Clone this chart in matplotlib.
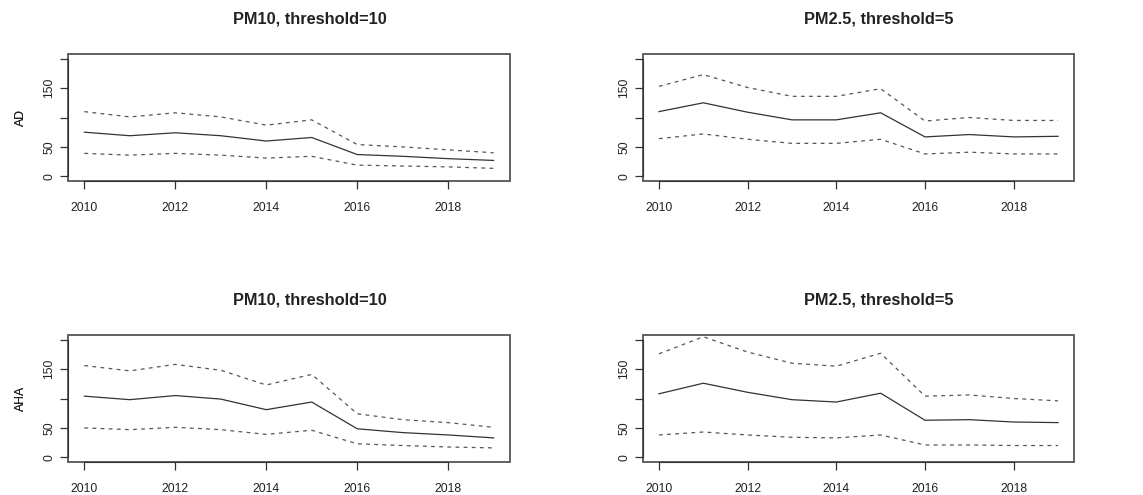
import numpy as np
import matplotlib
matplotlib.use('Agg')
import matplotlib.pyplot as plt
from matplotlib.patches import Rectangle

plt.rcParams['font.family'] = ['Liberation Sans', 'DejaVu Sans']

# 年份
years = [2010, 2011, 2012, 2013, 2014, 2015, 2016, 2017, 2018, 2019]

# AD, PM10 (threshold=10)
ad_pm10 = [75, 69, 74, 69, 60, 66, 37, 34, 30, 27]
ad_pm10_hi = [110, 101, 108, 101, 87, 96, 54, 50, 45, 40]
ad_pm10_lo = [39, 36, 39, 36, 31, 34, 19, 17.5, 16, 13.5]

# AD, PM2.5 (threshold=5)
ad_pm25 = [110, 125, 109, 96, 96, 108, 67, 71, 67, 68]
ad_pm25_hi = [153, 173, 151, 136, 136, 149, 94, 100, 95, 95]
ad_pm25_lo = [64, 72, 63, 56, 56, 63, 38, 41, 38, 38]

# AHA, PM10 (threshold=10)
aha_pm10 = [104, 98, 105, 99, 81, 94, 48.5, 42, 38, 33]
aha_pm10_hi = [156, 147, 158, 148, 123, 141, 74, 64, 59, 51]
aha_pm10_lo = [50, 47, 51, 47, 39, 46, 23, 20, 17.5, 16]

# AHA, PM2.5 (threshold=5)
aha_pm25 = [108, 126, 110.5, 98, 94, 109, 63, 64, 60, 59]
aha_pm25_hi = [176, 205, 179, 160, 155, 177, 104, 106, 100, 96]
aha_pm25_lo = [38, 43, 38, 34, 33, 38, 21, 21, 20, 20]

titles = ['PM10, threshold=10', 'PM2.5, threshold=5']
ylabels = ['AD', 'AHA']
yticks = [0, 50, 100, 150, 200]
yticklabels = ['0', '50', '', '150', '']
xticks = [2010, 2012, 2014, 2016, 2018]

W, H = 1143, 495
fig = plt.figure(figsize=(W / 100, H / 100), dpi=100)

# 各子圖位置 (像素)
boxes = {
    (0, 0): (68, 54, 510, 181),
    (0, 1): (643, 54, 1074, 181),
    (1, 0): (68, 335, 510, 462),
    (1, 1): (643, 335, 1074, 462),
}
panels = {
    (0, 0): (ad_pm10, ad_pm10_hi, ad_pm10_lo),
    (0, 1): (ad_pm25, ad_pm25_hi, ad_pm25_lo),
    (1, 0): (aha_pm10, aha_pm10_hi, aha_pm10_lo),
    (1, 1): (aha_pm25, aha_pm25_hi, aha_pm25_lo),
}

txt = '#222222'
boxcol = '#555555'

for (r, c), (x0, y0, x1, y1) in boxes.items():
    ax = fig.add_axes([x0 / W, 1 - y1 / H, (x1 - x0) / W, (y1 - y0) / H])
    mid, hi, lo = panels[(r, c)]
    ax.plot(years, mid, color='#333333', lw=0.9)
    ax.plot(years, hi, color='#555555', lw=0.9, dashes=(3, 3.5))
    ax.plot(years, lo, color='#555555', lw=0.9, dashes=(3, 3.5))

    ax.set_xlim(2010 - 0.36, 2019 + 0.36)
    ax.set_ylim(-8, 208)

    for s in ax.spines.values():
        s.set_visible(False)
    ax.add_patch(Rectangle((0, 0), 1, 1, transform=ax.transAxes, fill=False,
                           ec=boxcol, lw=1.3, clip_on=False))
    # R 風格的軸線
    ax.spines['left'].set_visible(True)
    ax.spines['left'].set_bounds(0, 200)
    ax.spines['left'].set_color('#333333')
    ax.spines['bottom'].set_visible(True)
    ax.spines['bottom'].set_bounds(2010, 2018)
    ax.spines['bottom'].set_color('#333333')

    ax.set_xticks(xticks)
    ax.set_xticklabels([str(x) for x in xticks])
    ax.set_yticks(yticks)
    ax.set_yticklabels(yticklabels, rotation=90, va='center')
    ax.tick_params(axis='x', length=6, width=0.9, color='#333333', pad=9,
                   labelsize=8.8, labelcolor=txt)
    ax.tick_params(axis='y', length=6, width=0.9, color='#333333', pad=3,
                   labelsize=8.8, labelcolor=txt)

    ax.set_ylabel(ylabels[r], fontsize=8.8, color=txt)
    ax.yaxis.set_label_coords((27 - x0) / (x1 - x0), 0.5)

    ax.text(0.5475, 1 + 35 / (y1 - y0), titles[c], transform=ax.transAxes,
            ha='center', va='center', fontsize=11.8, fontweight='bold', color=txt)

fig.savefig('out.png', dpi=100)
